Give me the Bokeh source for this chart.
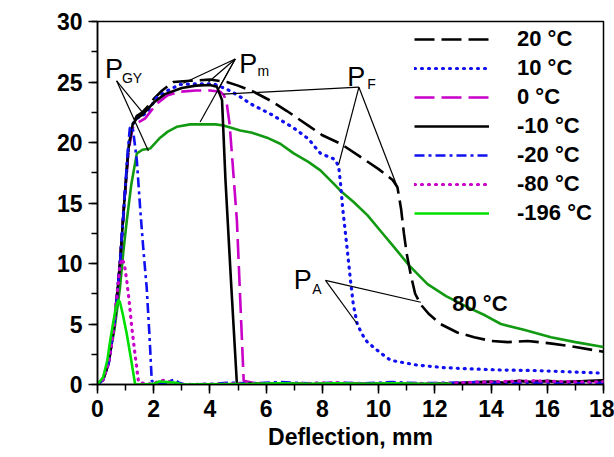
import math
from bokeh.plotting import figure
from bokeh.models import Range1d, SingleIntervalTicker, Legend, LegendItem, Label
from bokeh.core.properties import value
from bokeh.embed import file_html
from bokeh.resources import INLINE

# ---------------- data (deflection mm, load kN) ----------------
x_80 = [0, 0.2, 0.4, 0.6, 0.8, 0.92, 1.04, 1.2, 1.4, 1.6, 1.87, 2.23, 2.5, 2.82, 3.3, 3.77, 4.2, 4.48,
        5.08, 5.5, 6.03, 6.5, 6.98, 7.5, 7.93, 8.4, 8.65, 9.1, 9.6, 10.1, 10.55, 11.1, 11.74, 12.4,
        13.16, 13.8, 14.35, 15.2, 16.13, 17.0, 18.0]
y_80 = [0, 0.5, 2.0, 4.5, 8.0, 11.0, 13.5, 16.5, 19.1, 19.4, 19.5, 20.4, 20.9, 21.3, 21.5, 21.5, 21.5, 21.4,
        21.0, 20.8, 20.4, 19.9, 19.1, 18.4, 17.7, 16.6, 16.0, 15.1, 14.0, 12.6, 11.35, 9.8, 8.3, 7.3,
        6.4, 5.7, 5.0, 4.5, 3.9, 3.5, 3.1]

x_20 = [0, 0.2, 0.4, 0.6, 0.8, 0.95, 1.1, 1.25, 1.4, 1.6, 1.8, 2.0, 2.3, 2.7, 3.3, 4.0, 4.6, 5.0, 5.55,
        6.2, 6.74, 7.5, 8.0, 8.65, 9.3, 10.0, 10.5, 10.67, 10.8, 10.9, 11.0, 11.15, 11.3, 11.5, 11.8,
        12.2, 12.8, 13.4, 14.0, 14.6, 15.3, 16.1, 17.0, 18.0]
y_20 = [0, 0.4, 1.8, 5.0, 10.0, 15.0, 19.5, 21.5, 22.2, 22.5, 23.0, 23.6, 24.3, 25.0, 25.1, 25.2, 25.0, 24.7, 24.2,
        23.4, 22.6, 21.4, 20.6, 19.9, 18.9, 17.8, 16.9, 16.3, 14.5, 12.5, 10.8, 9.0, 7.5, 6.6, 5.8,
        5.0, 4.3, 3.9, 3.6, 3.5, 3.6, 3.4, 3.1, 2.7]

x_10 = [0, 0.2, 0.4, 0.6, 0.8, 0.95, 1.1, 1.25, 1.4, 1.6, 1.8, 2.1, 2.5, 2.94, 3.5, 4.13, 4.6, 5.0, 5.44,
        6.2, 6.98, 7.5, 7.93, 8.45, 8.58, 8.65, 8.72, 8.82, 8.9, 9.0, 9.1, 9.24, 9.4, 9.6, 10.07, 10.43,
        11.38, 12.3, 13.16, 14.3, 15.5, 16.8, 18.0]
y_10 = [0, 0.4, 1.8, 5.0, 10.0, 15.0, 19.5, 21.5, 22.0, 22.2, 22.6, 23.7, 24.3, 24.8, 24.85, 24.85, 24.4, 23.9, 23.2,
        22.3, 21.2, 20.3, 19.1, 18.6, 18.0, 16.5, 14.6, 12.5, 10.8, 8.6, 6.6, 5.0, 4.2, 3.5, 2.6, 2.0,
        1.6, 1.4, 1.3, 1.2, 1.16, 1.05, 0.93]

x_0 = [0, 0.2, 0.4, 0.6, 0.8, 0.95, 1.1, 1.25, 1.4, 1.7, 2.1, 2.5, 2.94, 3.5, 4.0, 4.37, 4.5, 4.6, 4.7, 4.78,
       4.96, 5.1, 5.2, 5.6, 6.5, 7.5, 8.5, 9.5, 10.5, 11.5, 12.5, 13.5, 14.5, 15.5, 16.5, 17.5, 18.0]
y_0 = [0, 0.4, 1.8, 5.0, 10.0, 15.0, 19.3, 21.2, 21.6, 22.0, 23.2, 23.9, 24.2, 24.3, 24.3, 24.2, 23.9, 23.2, 21.5, 19.1,
       13.5, 5.8, 0.3, 0.1, 0.05, 0.1, 0.05, 0.05, 0.1, 0.05, 0.1, 0.15, 0.25, 0.3, 0.2, 0.25, 0.3]

x_m10 = [0, 0.2, 0.4, 0.6, 0.8, 0.95, 1.1, 1.25, 1.4, 1.6, 1.8, 2.0, 2.4, 3.0, 3.5, 4.0, 4.25, 4.43, 4.55,
         4.75, 4.96, 5.3, 6.0, 7.0, 8.0, 9.0, 10.0, 11.0, 12.0, 13.0, 13.5, 14.0, 14.5, 15.0, 15.5,
         16.0, 16.5, 17.0, 17.5, 18.0]
y_m10 = [0, 0.4, 1.8, 5.0, 10.0, 15.0, 19.5, 21.5, 22.0, 22.3, 22.8, 23.3, 24.0, 24.5, 24.7, 24.75, 24.6, 23.5, 17.0,
         8.5, 0.0, 0.1, 0.05, 0.05, 0.0, 0.05, 0.05, 0.0, 0.05, 0.15, 0.2, 0.25, 0.15, 0.3, 0.2,
         0.3, 0.2, 0.25, 0.3, 0.35]

x_m20 = [0, 0.2, 0.4, 0.6, 0.8, 0.95, 1.05, 1.15, 1.25, 1.4, 1.52, 1.63, 1.75, 1.85, 1.93, 2.1, 2.4, 2.6,
         2.75, 2.9, 3.1, 4.2, 4.6, 5.5, 6.5, 7.5, 8.5, 9.5, 10.5, 11.5, 12.5, 13.5, 14.5, 15.5, 16.5,
         17.5, 18.0]
y_m20 = [0, 0.4, 1.8, 5.0, 10.0, 15.0, 18.5, 21.2, 21.3, 18.5, 14.5, 11.2, 8.0, 4.0, 0.3, 0.05, 0.1, 0.3,
         0.4, 0.15, 0.0, 0.05, 0.15, 0.1, 0.2, 0.1, 0.15, 0.1, 0.2, 0.1, 0.15, 0.2, 0.1, 0.15, 0.1,
         0.1, 0.15]

x_m80 = [0, 0.2, 0.4, 0.55, 0.7, 0.8, 0.86, 0.95, 1.04, 1.13, 1.22, 1.34, 1.46, 1.7, 2.0, 2.2, 2.4, 2.6,
         2.8, 3.0, 4.5, 5.5, 6.5, 7.5, 8.5, 9.5, 10.5, 11.5, 12.5, 13.5, 14.5, 15.5, 16.5, 17.5, 18.0]
y_m80 = [0, 0.4, 1.8, 4.0, 7.5, 9.8, 10.4, 10.0, 8.6, 6.8, 4.7, 2.4, 0.2, 0.05, 0.05, 0.3, 0.35, 0.2,
         0.05, 0.0, 0.05, 0.1, 0.05, 0.1, 0.15, 0.05, 0.1, 0.1, 0.1, 0.2, 0.25, 0.3, 0.25, 0.2, 0.25]

x_m196 = [0, 0.2, 0.35, 0.45, 0.55, 0.65, 0.74, 0.8, 0.9, 1.04, 1.2, 1.34, 1.6, 2.0, 2.2, 2.5, 2.8, 3.0,
          5.5, 6.5, 7.5, 8.5, 9.5, 10.5, 11.5, 12.6]
y_m196 = [0, 0.6, 2.0, 3.6, 5.0, 6.3, 7.0, 6.8, 5.8, 4.2, 2.0, 0.0, 0.0, 0.05, 0.25, 0.2, 0.15, 0.0,
          0.05, 0.1, 0.05, 0.1, 0.05, 0.1, 0.05, 0.05]

legend_labels = ["20 °C", "10 °C", "0 °C", "-10 °C", "-20 °C", "-80 °C", "-196 °C"]
extra_label = "80 °C"

# annotation leader lines (data coords): origin -> target points
gy_origin = (0.68, 25.1)
gy_targets_x = [1.63, 1.81]
gy_targets_y = [22.4, 19.3]
pm_origin = (4.9, 26.9)
pm_targets_x = [3.05, 3.95, 4.3, 3.65]
pm_targets_y = [24.9, 25.0, 24.4, 21.7]
pf_origin = (9.3, 24.57)
pf_targets_x = [4.48, 8.58, 10.67]
pf_targets_y = [24.0, 18.2, 16.3]
pa_origin = (8.11, 8.6)
pa_targets_x = [9.24, 11.5]
pa_targets_y = [5.0, 6.8]

# annotation labels
big_p_x = [0.27, 5.04, 8.88, 6.98]
big_p_y = [26.1, 26.5, 25.4, 8.6]
sub_text = ["GY", "m", "F", "A"]
sub_x = [0.87, 5.69, 9.6, 7.64]
sub_y = [25.3, 25.9, 24.85, 7.9]

FONT = "Liberation Sans"
BLUE = "#1010f0"
MAG = "#c800c8"
GREEN = "#00e000"
DGREEN = "#129a12"

p = figure(width=614, height=457, output_backend="svg", toolbar_location=None,
           x_range=Range1d(0, 18), y_range=Range1d(0, 30),
           min_border_left=97, min_border_right=11, min_border_top=21, min_border_bottom=73)
p.background_fill_color = "white"
p.border_fill_color = "white"
p.xgrid.visible = False
p.ygrid.visible = False
p.outline_line_color = "black"
p.outline_line_width = 1.5

p.xaxis.ticker = SingleIntervalTicker(interval=2, num_minor_ticks=2)
p.yaxis.ticker = SingleIntervalTicker(interval=5, num_minor_ticks=2)
for ax in (p.xaxis[0], p.yaxis[0]):
    ax.axis_line_width = 1.5
    ax.axis_line_color = "black"
    ax.major_tick_line_color = "black"
    ax.minor_tick_line_color = "black"
    ax.major_tick_line_width = 1.5
    ax.minor_tick_line_width = 1.5
    ax.major_tick_in = 0
    ax.major_tick_out = 9
    ax.minor_tick_in = 0
    ax.minor_tick_out = 6
    ax.major_label_text_font = FONT
    ax.major_label_text_font_size = "23px"
    ax.major_label_text_font_style = "bold"
    ax.major_label_text_color = "black"
    ax.major_label_standoff = 6
p.xaxis.axis_label = "Deflection, mm"
p.xaxis.axis_label_text_font = FONT
p.xaxis.axis_label_text_font_size = "23px"
p.xaxis.axis_label_text_font_style = "bold"
p.xaxis.axis_label_text_color = "black"
p.xaxis.axis_label_standoff = 4

ylab = Label(x=-2.62, y=16.7, x_units="data", y_units="data", text="Loading, (KN)",
             angle=math.pi / 2, text_align="center", text_baseline="middle",
             text_font=FONT, text_font_size="23px", text_font_style="bold", text_color="black")
p.add_layout(ylab)

W = 2.6
p.line(x_80, y_80, line_color=DGREEN, line_width=W)
r20 = p.line(x_20, y_20, line_color="black", line_width=W, line_dash="20 7")
r10 = p.line(x_10, y_10, line_color=BLUE, line_width=3.2, line_dash="1 6", line_cap="round")
r0 = p.line(x_0, y_0, line_color=MAG, line_width=W, line_dash="20 7")
rm10 = p.line(x_m10, y_m10, line_color="black", line_width=W)
rm20 = p.line(x_m20, y_m20, line_color=BLUE, line_width=W, line_dash="10 4 3 4")
rm80 = p.line(x_m80, y_m80, line_color=MAG, line_width=3.2, line_dash="1 6", line_cap="round")
rm196 = p.line(x_m196, y_m196, line_color=GREEN, line_width=W)

# leader lines
def fan(origin, tx, ty):
    p.segment(x0=[origin[0]] * len(tx), y0=[origin[1]] * len(ty), x1=tx, y1=ty,
              line_color="black", line_width=1.2)

fan(gy_origin, gy_targets_x, gy_targets_y)
fan(pm_origin, pm_targets_x, pm_targets_y)
fan(pf_origin, pf_targets_x, pf_targets_y)
fan(pa_origin, pa_targets_x, pa_targets_y)

p.text(x=big_p_x, y=big_p_y, text=["P"] * 4, text_font=value(FONT), text_font_size=value("27px"),
       text_color="black", text_baseline="alphabetic", text_align="left")
p.text(x=sub_x, y=sub_y, text=sub_text, text_font=value(FONT), text_font_size=value("14px"),
       text_color="black", text_baseline="alphabetic", text_align="left")
p.text(x=[12.62], y=[6.7], text=[extra_label], text_font=value(FONT), text_font_size=value("22px"),
       text_font_style="bold", text_color="black", text_baseline="alphabetic", text_align="left")

items = [LegendItem(label=l, renderers=[r]) for l, r in
         zip(legend_labels, [r20, r10, r0, rm10, rm20, rm80, rm196])]
legend = Legend(items=items, location=(317, 158), padding=0, margin=0, spacing=3,
                glyph_width=75, glyph_height=20, label_height=20, label_standoff=28,
                label_text_font=FONT, label_text_font_size="22px", label_text_font_style="bold",
                label_text_color="black",
                border_line_color=None, background_fill_alpha=0)
p.add_layout(legend)

open("out.html", "w").write(file_html(p, INLINE))
